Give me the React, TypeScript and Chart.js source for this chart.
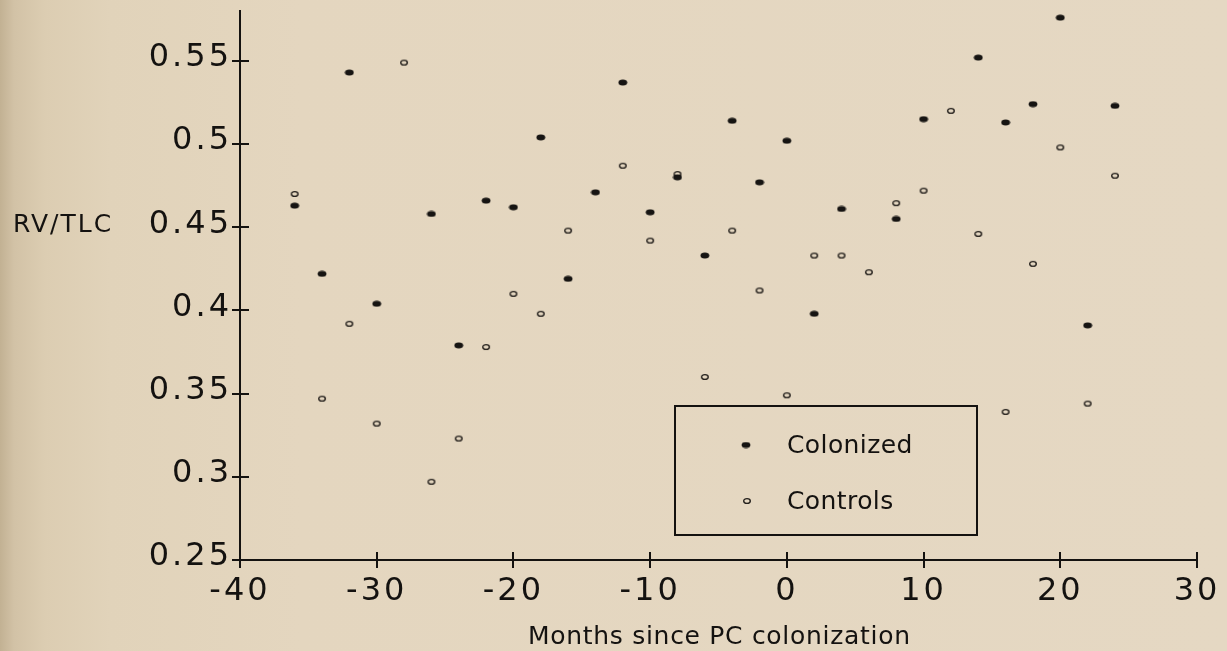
import React, { useEffect, useRef } from 'react';
import { Chart, registerables } from 'chart.js';

Chart.register(...registerables);

// ---- data ----
const colonizedMonths = [-36, -34, -32, -30, -26, -24, -22, -20, -18, -16, -14, -12, -10, -8, -6, -4, -2, 0, 2, 4, 8, 10, 14, 16, 18, 20, 22, 24];
const colonizedValues = [0.463, 0.422, 0.543, 0.404, 0.458, 0.379, 0.466, 0.462, 0.504, 0.419, 0.471, 0.537, 0.459, 0.48, 0.433, 0.514, 0.477, 0.502, 0.398, 0.461, 0.455, 0.515, 0.552, 0.513, 0.524, 0.576, 0.391, 0.523];

const controlMonths = [-36, -34, -32, -30, -28, -26, -24, -22, -20, -18, -16, -12, -10, -8, -6, -4, -2, 0, 2, 4, 6, 8, 10, 12, 14, 16, 18, 20, 22, 24];
const controlValues = [0.47, 0.347, 0.392, 0.332, 0.549, 0.297, 0.323, 0.378, 0.41, 0.398, 0.448, 0.487, 0.442, 0.482, 0.36, 0.448, 0.412, 0.349, 0.433, 0.433, 0.423, 0.4645, 0.472, 0.52, 0.446, 0.339, 0.428, 0.498, 0.344, 0.481];

const xTicks = [-40, -30, -20, -10, 0, 10, 20, 30];
const xTickLabels = ['-40', '-30', '-20', '-10', '0', '10', '20', '30'];
const yTicks = [0.25, 0.3, 0.35, 0.4, 0.45, 0.5, 0.55];
const yTickLabels = ['0.25', '0.3', '0.35', '0.4', '0.45', '0.5', '0.55'];

const seriesNames = ['Colonized', 'Controls'];
const yAxisTitle = 'RV/TLC';
const xAxisTitle = 'Months since PC colonization';

const INK = '#141210';
const FONT = '"DejaVu Sans", sans-serif';
const TICK_SPACING = '3px';

function makeFilledMarker() {
  const c = document.createElement('canvas');
  c.width = 10;
  c.height = 7;
  const ctx = c.getContext('2d')!;
  ctx.fillStyle = '#161412';
  ctx.beginPath();
  ctx.ellipse(5, 3.5, 4.4, 3.0, 0, 0, Math.PI * 2);
  ctx.fill();
  return c;
}

function makeRingMarker() {
  const c = document.createElement('canvas');
  c.width = 10;
  c.height = 8;
  const ctx = c.getContext('2d')!;
  ctx.strokeStyle = '#24201c';
  ctx.lineWidth = 1.4;
  ctx.beginPath();
  ctx.ellipse(5, 4, 3.3, 2.4, 0, 0, Math.PI * 2);
  ctx.stroke();
  return c;
}

export default function App() {
  const canvasRef = useRef<HTMLCanvasElement | null>(null);

  useEffect(() => {
    document.body.style.margin = '0';
    const canvas = canvasRef.current;
    if (!canvas) return;

    const filled = makeFilledMarker();
    const ring = makeRingMarker();

    const spacingPlugin = {
      id: 'spacing',
      beforeUpdate(chart: any) {
        chart.ctx.letterSpacing = TICK_SPACING;
      },
      beforeDraw(chart: any) {
        chart.ctx.letterSpacing = TICK_SPACING;
      },
    };

    const decorPlugin = {
      id: 'decor',
      afterDraw(chart: any) {
        const ctx = chart.ctx;
        const xs = chart.scales.x;
        const ys = chart.scales.y;
        const area = chart.chartArea;
        ctx.save();
        // inner tick marks
        ctx.strokeStyle = INK;
        ctx.lineWidth = 2;
        ctx.beginPath();
        xTicks.forEach((v) => {
          const px = Math.round(xs.getPixelForValue(v));
          ctx.moveTo(px, area.bottom);
          ctx.lineTo(px, area.bottom - 8);
        });
        yTicks.forEach((v) => {
          const py = Math.round(ys.getPixelForValue(v));
          ctx.moveTo(area.left, py);
          ctx.lineTo(area.left + 9, py);
        });
        ctx.stroke();

        ctx.fillStyle = INK;
        ctx.textBaseline = 'middle';
        ctx.textAlign = 'left';

        // y title
        ctx.font = `25px ${FONT}`;
        ctx.letterSpacing = '2px';
        ctx.fillText(yAxisTitle, 13, ys.getPixelForValue(0.45) - 2);

        // x title
        ctx.letterSpacing = '0.7px';
        ctx.fillText(xAxisTitle, 528, 637);

        // legend
        const lx = area.left + 435;
        const ly = 406;
        ctx.lineWidth = 2;
        ctx.strokeRect(lx, ly, 302, 129);
        ctx.drawImage(filled, lx + 71 - 5, ly + 39 - 3.5);
        ctx.drawImage(ring, lx + 72 - 5, ly + 95 - 4);
        ctx.letterSpacing = '0.4px';
        ctx.fillText(seriesNames[0], lx + 112, ly + 40);
        ctx.fillText(seriesNames[1], lx + 112, ly + 96);
        ctx.restore();
        ctx.letterSpacing = TICK_SPACING;
      },
    };

    const chart = new Chart(canvas, {
      type: 'scatter',
      data: {
        datasets: [
          {
            label: seriesNames[0],
            data: colonizedMonths.map((m, i) => ({ x: m, y: colonizedValues[i] })),
            pointStyle: filled as any,
            pointRadius: 4,
            backgroundColor: INK,
            borderColor: INK,
          },
          {
            label: seriesNames[1],
            data: controlMonths.map((m, i) => ({ x: m, y: controlValues[i] })),
            pointStyle: ring as any,
            pointRadius: 4,
            backgroundColor: 'transparent',
            borderColor: INK,
          },
        ],
      },
      options: {
        responsive: false,
        animation: false,
        events: [],
        layout: { padding: { top: 11, right: 30, left: 0, bottom: 0 } },
        plugins: {
          legend: { display: false },
          tooltip: { enabled: false },
          title: { display: false },
        },
        scales: {
          x: {
            type: 'linear',
            min: -40,
            max: 30,
            afterBuildTicks: (s: any) => {
              s.ticks = xTicks.map((v) => ({ value: v }));
            },
            afterFit: (s: any) => {
              s.height = 91;
              s.paddingLeft = 0;
              s.paddingRight = 0;
            },
            ticks: {
              autoSkip: false,
              maxRotation: 0,
              padding: 4,
              color: INK,
              font: { family: FONT, size: 32 },
              callback: (v: any) => xTickLabels[xTicks.indexOf(Number(v))],
            },
            grid: { drawOnChartArea: false, drawTicks: true, tickLength: 8, color: INK, lineWidth: 2 },
            border: { display: true, color: INK, width: 2 },
          },
          y: {
            type: 'linear',
            min: 0.25,
            max: 0.58,
            afterBuildTicks: (s: any) => {
              s.ticks = yTicks.map((v) => ({ value: v }));
            },
            afterFit: (s: any) => {
              s.width = 240;
              s.paddingTop = 0;
              s.paddingBottom = 0;
            },
            ticks: {
              autoSkip: false,
              padding: 0,
              labelOffset: -3,
              color: INK,
              font: { family: FONT, size: 32 },
              callback: (v: any) => yTickLabels[yTicks.indexOf(Number(v))],
            },
            grid: { drawOnChartArea: false, drawTicks: true, tickLength: 8, color: INK, lineWidth: 2 },
            border: { display: true, color: INK, width: 2 },
          },
        },
      },
      plugins: [spacingPlugin, decorPlugin],
    } as any);

    return () => {
      chart.destroy();
    };
  }, []);

  return (
    <div
      style={{
        width: 1227,
        height: 651,
        position: 'relative',
        background:
          'linear-gradient(to right, #c2b193 0px, #d2c2a6 14px, #dccdb2 45px, #e1d3ba 110px, #e4d6bf 300px, #e5d8c3 100%)',
      }}
    >
      <canvas ref={canvasRef} width={1227} height={651} style={{ display: 'block' }} />
    </div>
  );
}
